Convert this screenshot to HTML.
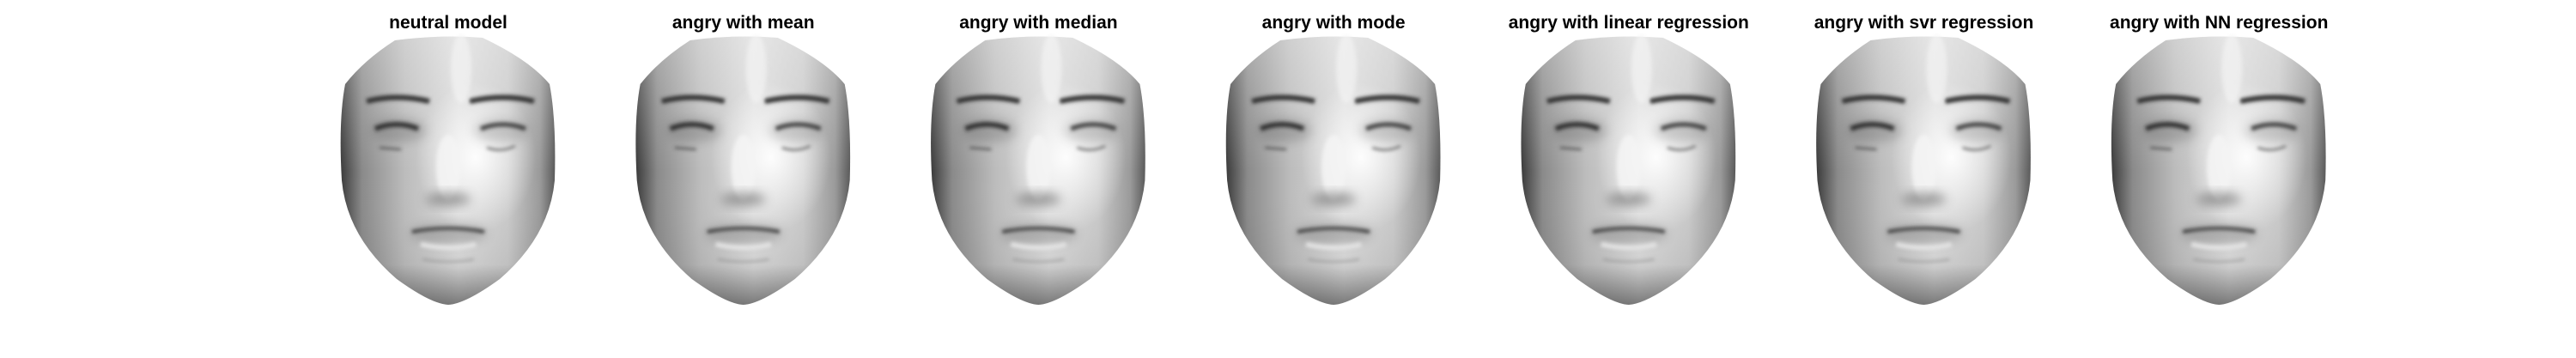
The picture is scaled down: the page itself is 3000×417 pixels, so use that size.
<!DOCTYPE html>
<html><head><meta charset="utf-8"><style>
html,body{margin:0;padding:0;background:#fff;width:3000px;height:417px;overflow:hidden}
svg{display:block}
text{font-family:"Liberation Sans",Arial,sans-serif;font-weight:bold;font-size:21px;fill:#000}
</style></head><body>
<svg id="fig" width="3000" height="417">
<defs>
<linearGradient id="gx" x1="0" x2="1" y1="0" y2="0">
<stop offset="0" stop-color="#3a3a3a"/><stop offset="0.1" stop-color="#8a8a8a"/><stop offset="0.3" stop-color="#bcbcbc"/><stop offset="0.55" stop-color="#dcdcdc"/><stop offset="0.78" stop-color="#cacaca"/><stop offset="0.93" stop-color="#9a9a9a"/><stop offset="1" stop-color="#5a5a5a"/>
</linearGradient>
<radialGradient id="hl" cx="0.63" cy="0.45" r="0.28">
<stop offset="0" stop-color="#fff" stop-opacity="0.95"/><stop offset="1" stop-color="#fff" stop-opacity="0"/>
</radialGradient>
<linearGradient id="gy" x1="0" x2="0" y1="0" y2="1">
<stop offset="0" stop-color="#fff" stop-opacity="0.3"/><stop offset="0.5" stop-color="#fff" stop-opacity="0"/><stop offset="0.85" stop-color="#000" stop-opacity="0.05"/><stop offset="1" stop-color="#000" stop-opacity="0.45"/>
</linearGradient>
<filter id="bl" x="-20%" y="-50%" width="140%" height="200%"><feGaussianBlur stdDeviation="2"/></filter>
<filter id="bl2" x="-50%" y="-50%" width="200%" height="200%"><feGaussianBlur stdDeviation="6"/></filter>
</defs>
</svg>
<script>
const titles=["neutral model","angry with mean","angry with median","angry with mode","angry with linear regression","angry with svr regression","angry with NN regression"];
const svg=document.getElementById('fig');
const NS="http://www.w3.org/2000/svg";
function mk(tag,attrs,parent){const e=document.createElementNS(NS,tag);for(const k in attrs)e.setAttribute(k,attrs[k]);(parent||svg).appendChild(e);return e;}
titles.forEach((t,i)=>{
  const cx=522+i*343.7;
  const g=mk('g',{transform:`translate(${cx},0)`});
  
  
  const tx=mk('text',{x:0,y:33,'text-anchor':'middle'},g);
  tx.textContent=t;
  
  
  const d="M-62,47 Q-10,40 40,44 Q95,70 118,98 Q126,140 124,210 Q118,275 60,325 Q20,354 0,355 Q-20,354 -60,325 Q-118,275 -124,210 Q-128,140 -120,98 Q-98,70 -62,47 Z";
  const face=mk('path',{d:d,fill:'url(#gx)'},g);
  
  
  mk('path',{d:d,fill:'url(#gy)'},g);
  mk('path',{d:d,fill:'url(#hl)'},g);
  const soft=mk('g',{filter:'url(#bl)'},g);
  mk('ellipse',{cx:0,cy:195,rx:14,ry:38,fill:'#f4f4f4',opacity:0.85},soft);
  mk('ellipse',{cx:15,cy:80,rx:12,ry:40,fill:'#f5f5f5',opacity:0.6},soft);
  // eye sockets shading
  mk('ellipse',{cx:-58,cy:152,rx:32,ry:14,fill:'#666',opacity:0.35,filter:'url(#bl2)'},g);
  mk('ellipse',{cx:62,cy:152,rx:32,ry:14,fill:'#777',opacity:0.3,filter:'url(#bl2)'},g);
  // brows
  mk('path',{d:'M-95,118 Q-60,109 -22,118',stroke:'#333',"stroke-width":6,fill:'none'},soft);
  mk('path',{d:'M25,118 Q65,109 100,118',stroke:'#333',"stroke-width":6,fill:'none'},soft);
  // eyes
  mk('path',{d:'M-85,150 Q-60,140 -35,150',stroke:'#222',"stroke-width":6,fill:'none'},soft);
  mk('path',{d:'M38,150 Q63,140 90,150',stroke:'#333',"stroke-width":5,fill:'none'},soft);
  mk('path',{d:'M-80,172 L-55,174',stroke:'#444',"stroke-width":2,fill:'none'},soft);
  mk('path',{d:'M45,172 Q62,178 78,170',stroke:'#555',"stroke-width":2,fill:'none'},soft);
  // nose shadow
  mk('ellipse',{cx:0,cy:232,rx:26,ry:8,fill:'#555',opacity:0.5,filter:'url(#bl2)'},g);
  // mouth
  mk('ellipse',{cx:0,cy:272,rx:45,ry:12,fill:'#777',opacity:0.4,filter:'url(#bl2)'},g);
  mk('path',{d:'M-42,270 Q0,262 42,270',stroke:'#333',"stroke-width":4,fill:'none'},soft);
  mk('path',{d:'M-32,284 Q0,292 32,284',stroke:'#eee',"stroke-width":6,fill:'none'},soft);
  mk('path',{d:'M-30,302 Q0,308 30,302',stroke:'#888',"stroke-width":3,fill:'none',opacity:0.5},soft);
});
</script>
</body></html>
